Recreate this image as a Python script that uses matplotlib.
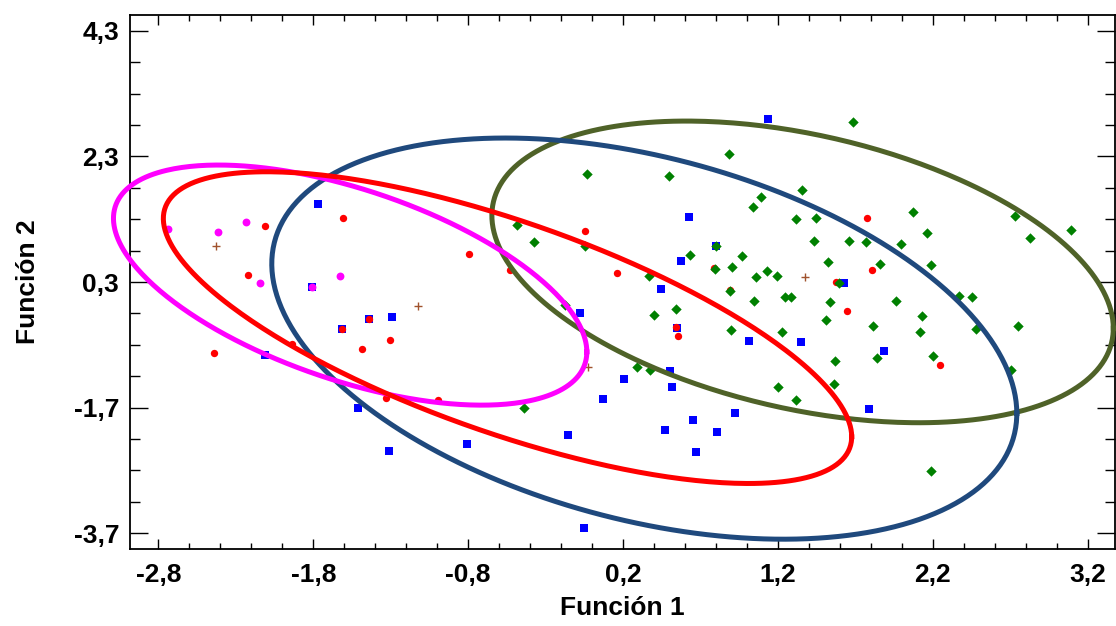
import numpy as np
import matplotlib
matplotlib.use('Agg')
import matplotlib.pyplot as plt
from matplotlib.ticker import MultipleLocator

# group points (Función 1, Función 2)
green_x = [1.687, 0.886, -0.030, 0.499, 1.356, 1.093, 1.039, 1.317, 1.444, 2.074,
           2.161, 1.435, 1.661, 1.767, 1.993, 2.729, 2.829, 3.090, 0.802, 0.634,
           0.966, 1.525, 1.857, 2.190, 0.796, 0.904, 0.366, 1.059, 1.130, 1.192,
           1.596, 0.893, 1.048, 1.246, 1.283, 1.534, 1.964, 2.371, 2.451, 0.400,
           0.544, 1.507, 1.812, 2.128, 2.119, 2.477, 2.748, 0.895, 1.228, 1.570,
           1.840, 2.199, 2.705, 1.560, 1.201, 1.317, 0.292, 0.372, -0.438, -0.482,
           -0.375, -0.043, -0.173, 2.190]
green_y = [2.846, 2.341, 2.018, 1.994, 1.763, 1.652, 1.488, 1.302, 1.325, 1.418,
           1.074, 0.956, 0.959, 0.931, 0.908, 1.345, 1.004, 1.122, 0.872, 0.733,
           0.708, 0.612, 0.590, 0.564, 0.501, 0.542, 0.399, 0.383, 0.474, 0.399,
           0.290, 0.150, -0.009, 0.060, 0.060, -0.012, -0.009, 0.080, 0.060, -0.222,
           -0.132, -0.311, -0.407, -0.243, -0.498, -0.450, -0.407, -0.471, -0.498, -0.960,
           -0.912, -0.885, -1.098, -1.329, -1.374, -1.581, -1.052, -1.106, -1.700, 1.211,
           0.935, 0.876, -0.071, -2.711]

blue_x = [1.138, 0.626, 0.572, 0.447, 0.802, 1.624, -0.076, 0.549, 1.011, 1.348,
          1.885, 1.786, 0.500, 0.518, 0.203, 0.068, -0.157, 0.473, 0.652, 0.669,
          0.805, 0.923, -0.050, -0.805, -1.309, -1.290, -1.438, -1.616, -1.808, -1.767,
          -1.511, -2.113]
blue_y = [2.894, 1.330, 0.638, 0.195, 0.872, 0.289, -0.198, -0.434, -0.636, -0.662,
          -0.796, -1.724, -1.111, -1.374, -1.238, -1.560, -2.138, -2.063, -1.899, -2.409,
          -2.090, -1.788, -3.608, -2.276, -2.388, -0.264, -0.286, -0.450, 0.224, 1.540,
          -1.708, -0.864]

red_x = [-2.113, -1.608, -2.221, -1.438, -1.616, -1.485, -1.304, -2.438, -1.935, -1.330,
         -0.996, -0.792, -0.531, -0.043, 0.163, 0.542, 0.557, 1.773, 1.807, 1.572,
         1.646, 2.248, 0.789, 0.888]
red_y = [1.195, 1.313, 0.415, -0.286, -0.450, -0.764, -0.620, -0.832, -0.684, -1.541,
         -1.581, 0.739, 0.485, 1.111, 0.437, -0.410, -0.557, 1.313, 0.485, 0.306,
         -0.163, -1.018, 0.517, 0.166]

magenta_x = [-2.739, -2.413, -2.232, -2.142, -1.629, -1.808]
magenta_y = [1.138, 1.090, 1.249, 0.278, 0.394, 0.224]

brown_x = [-2.429, -1.125, -0.028, 1.375]
brown_y = [0.876, -0.089, -1.060, 0.373]

# ellipses: centre x, centre y, half range x, half range y, correlation
ellipse_olive = (1.359, 0.461, 2.006, 2.401, -0.374)
ellipse_blue = (0.337, -0.601, 2.405, 3.193, -0.373)
ellipse_magenta = (-1.562, 0.251, 1.528, 1.911, -0.556)
ellipse_red = (-0.546, -0.426, 2.222, 2.481, -0.700)

x_ticks = [-2.8, -1.8, -0.8, 0.2, 1.2, 2.2, 3.2]
y_ticks = [-3.7, -1.7, 0.3, 2.3, 4.3]


def ellipse_xy(params, n=400):
    cx, cy, rx, ry, rho = params
    t = np.linspace(0, 2 * np.pi, n)
    x = cx + rx * np.cos(t)
    y = cy + ry * (rho * np.cos(t) + np.sqrt(1 - rho ** 2) * np.sin(t))
    return x, y


plt.rcParams['font.family'] = ['Liberation Sans', 'DejaVu Sans']
plt.rcParams['font.weight'] = 'bold'

fig = plt.figure(figsize=(11.16, 6.26), dpi=100)
ax = fig.add_axes([0.1168, 0.1225, 0.9987 - 0.1168, 0.9765 - 0.1225])

ax.scatter(blue_x, blue_y, marker='s', s=30, color='#0000ff', linewidths=0, zorder=2)
ax.scatter(magenta_x, magenta_y, marker='o', s=32, color='#ff00ff', linewidths=0, zorder=3)
ax.scatter(red_x, red_y, marker='o', s=28, color='#ff0000', linewidths=0, zorder=3)
ax.scatter(green_x, green_y, marker='D', s=28, color='#008000', linewidths=0, zorder=4)
ax.scatter(brown_x, brown_y, marker='+', s=40, color='#a0522d', linewidths=1.0, zorder=4)

for params, col in [(ellipse_olive, '#4f6228'), (ellipse_blue, '#1f497d'),
                    (ellipse_magenta, '#ff00ff'), (ellipse_red, '#ff0000')]:
    ex, ey = ellipse_xy(params)
    ax.plot(ex, ey, color=col, linewidth=3.6, zorder=5, clip_on=False)

ax.set_xlim(-2.981, 3.373)
ax.set_ylim(-3.955, 4.555)

ax.set_xticks(x_ticks)
ax.set_xticklabels([f'{v:.1f}'.replace('.', ',') for v in x_ticks])
ax.set_yticks(y_ticks)
ax.set_yticklabels([f'{v:.1f}'.replace('.', ',') for v in y_ticks])
ax.xaxis.set_minor_locator(MultipleLocator(0.2))
ax.yaxis.set_minor_locator(MultipleLocator(0.5, offset=0.3))

ax.tick_params(axis='both', which='both', direction='in', top=True, right=True,
               width=1.0, labelsize=19)
ax.tick_params(axis='x', which='major', length=7.2, pad=10)
ax.tick_params(axis='x', which='minor', length=4.3)
ax.tick_params(axis='y', which='major', length=13, pad=8)
ax.tick_params(axis='y', which='minor', length=7)
for lab in ax.get_xticklabels() + ax.get_yticklabels():
    lab.set_fontweight('bold')

for sp in ax.spines.values():
    sp.set_linewidth(1.3)

ax.set_xlabel('Función 1', fontsize=19, fontweight='bold', labelpad=6)
ax.set_ylabel('Función 2', fontsize=19, fontweight='bold', labelpad=24)

fig.savefig('out.png', dpi=100)
